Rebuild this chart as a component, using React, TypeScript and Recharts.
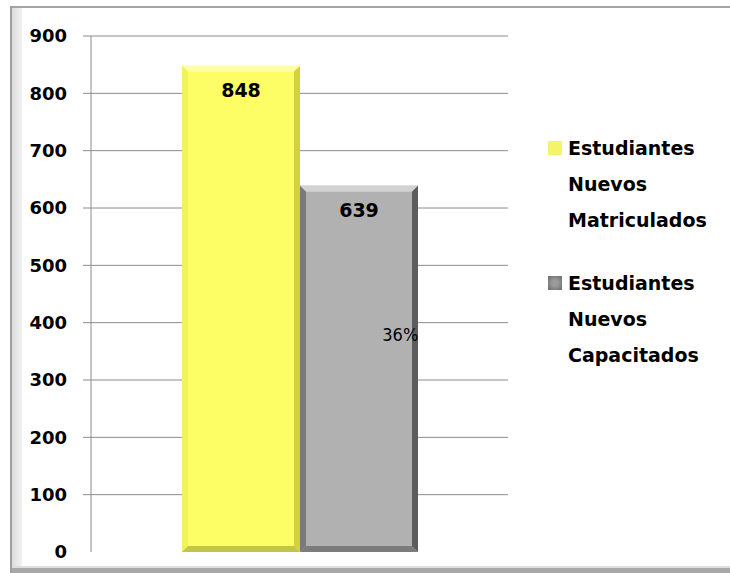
import React from "react";
import {
  BarChart,
  Bar,
  XAxis,
  YAxis,
  CartesianGrid,
  Legend,
  LabelList,
} from "recharts";

const categories = ["Estudiantes"];
const matriculados = [848];
const capacitados = [639];
const shareLabels = ["36%"];
const yTicks = [0, 100, 200, 300, 400, 500, 600, 700, 800, 900];
const seriesKeys = ["matriculados", "capacitados"];
const seriesNames = [
  "Estudiantes Nuevos Matriculados",
  "Estudiantes Nuevos Capacitados",
];

const data = categories.map((name, i) => ({
  name,
  matriculados: matriculados[i],
  capacitados: capacitados[i],
  share: shareLabels[i],
}));

const FONT = "Tahoma, 'DejaVu Sans', Verdana, sans-serif";
const Y_MAX = 900;

const yellowPalette = {
  face: "#fdfd66",
  top: "#ffffa8",
  left: "#f2f25a",
  right: "#d2d23c",
  bottom: "#c4c44a",
};
const grayPalette = {
  face: "#b1b1b1",
  top: "#d2d2d2",
  left: "#7a7a7a",
  right: "#5c5c5c",
  bottom: "#7c7c7c",
};

const BevelBar = (props: any) => {
  const { x, y, width: w, height: h, palette } = props;
  const b = 6;
  if (!h || h <= 0) return null;
  return (
    <g>
      <rect x={x} y={y} width={w} height={h} fill={palette.face} />
      <polygon
        points={`${x},${y} ${x + w},${y} ${x + w - b},${y + b} ${x + b},${y + b}`}
        fill={palette.top}
      />
      <polygon
        points={`${x},${y} ${x + b},${y + b} ${x + b},${y + h - b} ${x},${y + h}`}
        fill={palette.left}
      />
      <polygon
        points={`${x + w},${y} ${x + w},${y + h} ${x + w - b},${y + h - b} ${x + w - b},${y + b}`}
        fill={palette.right}
      />
      <polygon
        points={`${x},${y + h} ${x + w},${y + h} ${x + w - b},${y + h - b} ${x + b},${y + h - b}`}
        fill={palette.bottom}
      />
    </g>
  );
};

const YTick = (props: any) => {
  const { x, y, payload } = props;
  return (
    <g>
      <text
        x={x}
        y={y}
        dy="0.36em"
        textAnchor="end"
        fill="#000"
        fontFamily={FONT}
        fontWeight="bold"
        fontSize={18}
      >
        {payload.value}
      </text>
      {payload.value !== 0 && (
        <line x1={x + 16} x2={x + 24} y1={y} y2={y} stroke="#8c8c8c" />
      )}
    </g>
  );
};

const ShareLabel = (props: any) => {
  const { x, y, width, height, value } = props;
  return (
    <text
      x={x + width * 0.85}
      y={y + height * 0.41}
      textAnchor="middle"
      dominantBaseline="middle"
      fill="#000"
      fontFamily="'DejaVu Sans Condensed', 'DejaVu Sans', sans-serif"
      fontSize={18}
    >
      {value}
    </text>
  );
};

const LegendBox = (props: any) => {
  const payload = [...(props.payload || [])].sort(
    (a: any, b: any) =>
      seriesKeys.indexOf(a.dataKey) - seriesKeys.indexOf(b.dataKey)
  );
  return (
    <div style={{ fontFamily: FONT, fontWeight: "bold", fontSize: 19 }}>
      {payload.map((entry: any, i: number) => {
        const lines = String(entry.value).split(" ");
        const isGray = entry.dataKey === "capacitados";
        return (
          <div
            key={i}
            style={{
              display: "flex",
              alignItems: "flex-start",
              marginBottom: 27,
            }}
          >
            <span
              style={{
                display: "inline-block",
                width: 14,
                height: 14,
                marginTop: 11,
                marginRight: 6,
                flexShrink: 0,
                background: isGray
                  ? "radial-gradient(circle, #9a9a9a 30%, #6a6a6a 100%)"
                  : "#f4f46a",
              }}
            />
            <div style={{ lineHeight: "36px", color: "#000", textAlign: "left" }}>
              {lines.map((l, k) => (
                <div key={k}>{l}</div>
              ))}
            </div>
          </div>
        );
      })}
    </div>
  );
};

export default function App() {
  return (
    <div
      style={{
        position: "absolute",
        left: 0,
        top: 0,
        width: 730,
        height: 573,
        background: "#fff",
        overflow: "hidden",
      }}
    >
      {/* frame */}
      <div
        style={{
          position: "absolute",
          left: 10,
          top: 6,
          width: 720,
          height: 2,
          background: "#a4a4a4",
        }}
      />
      <div
        style={{
          position: "absolute",
          left: 10,
          top: 6,
          width: 2,
          height: 567,
          background: "#a0a0a0",
        }}
      />
      <div
        style={{
          position: "absolute",
          left: 12,
          top: 8,
          width: 10,
          height: 565,
          background: "linear-gradient(to right, #dcdcdc, #f2f2f2)",
        }}
      />
      <div
        style={{
          position: "absolute",
          left: 12,
          top: 566,
          width: 718,
          height: 2,
          background: "#dedede",
        }}
      />
      <div
        style={{
          position: "absolute",
          left: 12,
          top: 568,
          width: 718,
          height: 5,
          background: "#a8a8a8",
        }}
      />
      <div style={{ position: "absolute", left: 0, top: 0 }}>
        <BarChart
          width={730}
          height={573}
          data={data}
          margin={{ top: 36, right: 222, bottom: 21, left: 0 }}
          barGap={0}
          barCategoryGap={0}
        >
          <CartesianGrid
            vertical={false}
            stroke="#8c8c8c"
            horizontalCoordinatesGenerator={({ offset }: any) =>
              yTicks
                .filter((t) => t > 0)
                .map((t) => offset.top + offset.height * (1 - t / Y_MAX))
            }
          />
          <XAxis dataKey="name" hide />
          <YAxis
            width={91}
            domain={[0, Y_MAX]}
            ticks={yTicks}
            interval={0}
            tickSize={8}
            tickMargin={16}
            tickLine={{ stroke: "none" }}
            axisLine={{ stroke: "#8c8c8c" }}
            tick={<YTick />}
          />
          <Legend
            layout="vertical"
            align="center"
            verticalAlign="middle"
            content={<LegendBox />}
            wrapperStyle={{ left: 548, top: 130, width: 182 }}
          />
          <Bar
            dataKey="matriculados"
            name={seriesNames[0]}
            fill="#f4f46a"
            barSize={118}
            isAnimationActive={false}
            shape={(p: any) => <BevelBar {...p} palette={yellowPalette} />}
          >
            <LabelList
              dataKey="matriculados"
              position="insideTop"
              offset={18}
              fill="#000"
              fontFamily={FONT}
              fontWeight="bold"
              fontSize={19}
            />
          </Bar>
          <Bar
            dataKey="capacitados"
            name={seriesNames[1]}
            fill="#9a9a9a"
            barSize={118}
            isAnimationActive={false}
            shape={(p: any) => <BevelBar {...p} palette={grayPalette} />}
          >
            <LabelList
              dataKey="capacitados"
              position="insideTop"
              offset={18}
              fill="#000"
              fontFamily={FONT}
              fontWeight="bold"
              fontSize={19}
            />
            <LabelList dataKey="share" content={<ShareLabel />} />
          </Bar>
        </BarChart>
      </div>
    </div>
  );
}
